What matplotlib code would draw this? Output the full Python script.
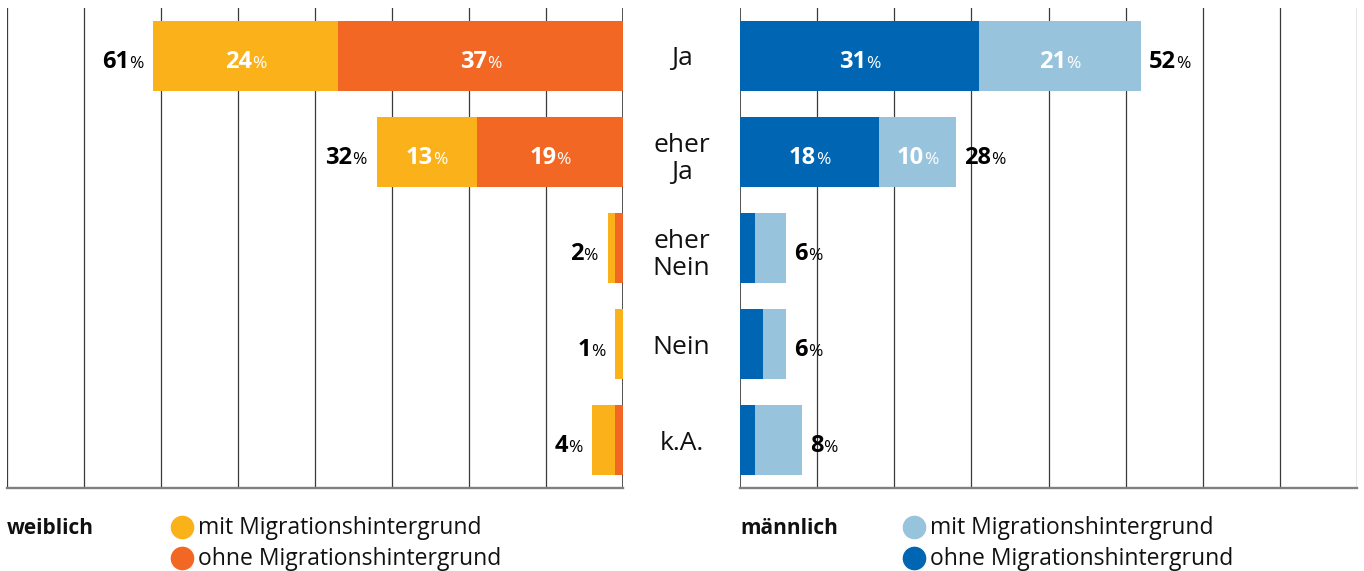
import matplotlib
matplotlib.use('Agg')
import matplotlib.pyplot as plt
from matplotlib.transforms import offset_copy, blended_transform_factory
from matplotlib.lines import Line2D

categories = ['Ja', 'eher\nJa', 'eher\nNein', 'Nein', 'k.A.']
w_mit = [24, 13, 1, 1, 3]
w_ohne = [37, 19, 1, 0, 1]
w_total = [61, 32, 2, 1, 4]
m_ohne = [31, 18, 2, 3, 2]
m_mit = [21, 10, 4, 3, 6]
m_total = [52, 28, 6, 6, 8]
legend_labels = ['mit Migrationshintergrund', 'ohne Migrationshintergrund']
group_titles = ['weiblich', 'männlich']

C_YEL = '#FBB11A'
C_ORA = '#F26724'
C_DBL = '#0066B3'
C_LBL = '#97C4DC'
FONT = 'Open Sans'

W, H = 1364, 571
fig = plt.figure(figsize=(W / 100, H / 100), dpi=100)
fig.patch.set_facecolor('white')
plt.rcParams['font.family'] = [FONT, 'DejaVu Sans']

top, bot = 8, 488
axL = fig.add_axes([7 / W, 1 - bot / H, 616 / W, (bot - top) / H])
axR = fig.add_axes([740 / W, 1 - bot / H, 617 / W, (bot - top) / H])

renderer = fig.canvas.get_renderer()
y = list(range(len(categories)))
bh = 0.72

for ax in (axL, axR):
    ax.set_ylim(len(categories) - 0.5, -0.5)
    for s in ax.spines.values():
        s.set_visible(False)
    ax.set_xticks([])
    ax.set_yticks([])
    ax.patch.set_alpha(0)

axL.set_xlim(80, 0)
axR.set_xlim(0, 80)

for ax in (axL, axR):
    for gx in range(0, 81, 10):
        col = '#222222' if gx == 0 else '#3a3a3a'
        ax.axvline(gx, color=col, lw=1.1 if gx == 0 else 0.9, zorder=0)
    ax.axhline(len(categories) - 0.5, color='#808080', lw=1.7, zorder=1, clip_on=False)

axL.barh(y, w_ohne, left=0, height=bh, color=C_ORA, zorder=2)
axL.barh(y, w_mit, left=w_ohne, height=bh, color=C_YEL, zorder=2)
axR.barh(y, m_ohne, left=0, height=bh, color=C_DBL, zorder=2)
axR.barh(y, m_mit, left=m_ohne, height=bh, color=C_LBL, zorder=2)


def pct_label(ax, x, yy, num, color, anchor, off):
    t1 = ax.text(x, yy, str(num), fontsize=17, fontweight='bold', color=color,
                 family=FONT, ha='left', va='baseline', zorder=5)
    t2 = ax.text(x, yy, '%', fontsize=12.5, color=color, family=FONT,
                 ha='left', va='baseline', zorder=5)
    w1 = t1.get_window_extent(renderer).width
    w2 = t2.get_window_extent(renderer).width
    tot = w1 + w2
    if anchor == 'left':
        start = off
    elif anchor == 'right':
        start = off - tot
    else:
        start = off - tot / 2
    t1.set_transform(offset_copy(ax.transData, fig, x=start, y=-12, units='dots'))
    t2.set_transform(offset_copy(ax.transData, fig, x=start + w1, y=-12, units='dots'))


for i in y:
    pct_label(axL, w_total[i], i, w_total[i], 'black', 'right', -10)
    pct_label(axR, m_total[i], i, m_total[i], 'black', 'left', 8)
    if w_mit[i] >= 10:
        pct_label(axL, w_ohne[i] + w_mit[i] / 2, i, w_mit[i], 'white', 'center', 0)
    if w_ohne[i] >= 10:
        pct_label(axL, w_ohne[i] / 2, i, w_ohne[i], 'white', 'center', 0)
    if m_ohne[i] >= 10:
        pct_label(axR, m_ohne[i] / 2, i, m_ohne[i], 'white', 'center', 0)
    if m_mit[i] >= 10:
        pct_label(axR, m_ohne[i] + m_mit[i] / 2, i, m_mit[i], 'white', 'center', 0)

tr = blended_transform_factory(fig.transFigure, axL.transData)
for i, c in enumerate(categories):
    dy = -7 if '\n' in c else -3
    fig.text(681.5 / W, i, c, ha='center', va='center',
             transform=offset_copy(tr, fig, x=0, y=dy, units='dots'),
             fontsize=19, family=FONT, color='#111111', linespacing=1.12)


def fy(py):
    return 1 - py / H


for gx, title, cols, cx in [(7, group_titles[0], [C_YEL, C_ORA], 182),
                            (740, group_titles[1], [C_LBL, C_DBL], 914)]:
    fig.text(gx / W, fy(528), title, fontsize=15, fontweight='bold', family=FONT,
             ha='left', va='center', color='#111111')
    for k, (lab, col) in enumerate(zip(legend_labels, cols)):
        py = 528 + 31 * k
        fig.add_artist(Line2D([cx / W], [fy(py - 1)], marker='o', markersize=16,
                              color=col, transform=fig.transFigure, lw=0))
        fig.text((cx + 16) / W, fy(py), lab, fontsize=16.5, family=FONT,
                 ha='left', va='center', color='#111111')

fig.savefig('out.png', dpi=100, facecolor='white')
